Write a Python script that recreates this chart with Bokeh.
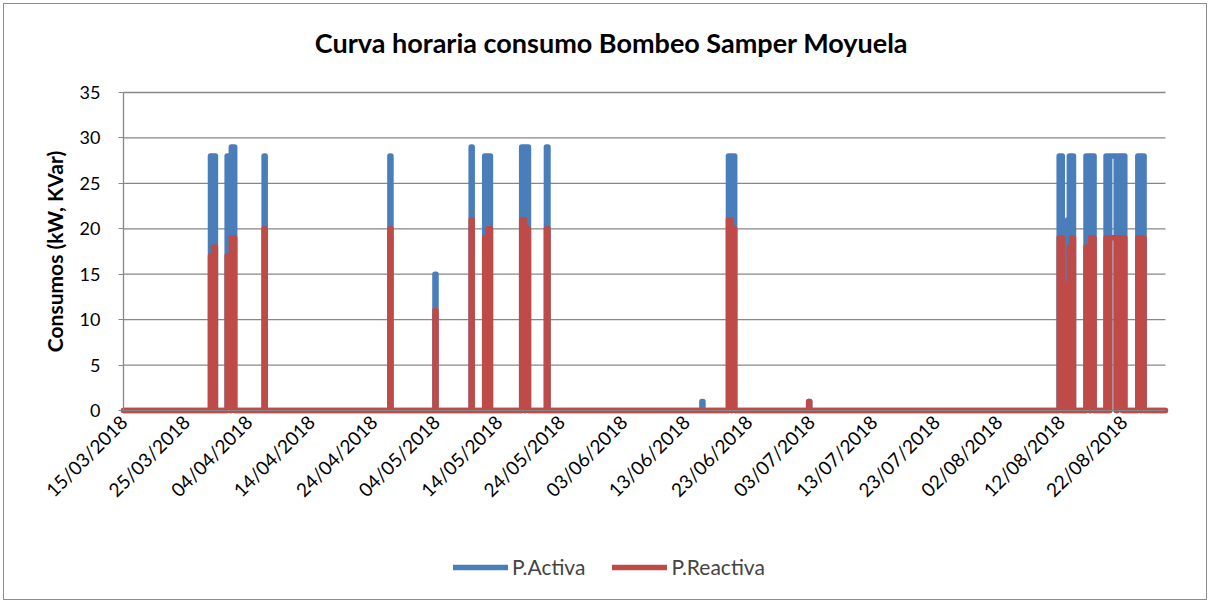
from datetime import datetime, timedelta
from math import pi

from bokeh.plotting import figure
from bokeh.models import (ColumnDataSource, Range1d, FixedTicker, DatetimeTickFormatter,
                          Legend, LegendItem, Label)
from bokeh.embed import file_html
from bokeh.resources import INLINE

# ---------------- data ----------------
# Pumping runs: start, end, P.Activa (kW), P.Reactiva (kVAr); zero elsewhere.
run_start = [
    "28/03/2018 22:00", "29/03/2018 10:00", "31/03/2018 14:00", "01/04/2018 06:00",
    "06/04/2018 12:00", "26/04/2018 15:00", "03/05/2018 20:00", "09/05/2018 15:00",
    "11/05/2018 19:00", "12/05/2018 08:00", "17/05/2018 17:00", "18/05/2018 08:00",
    "21/05/2018 16:00", "15/06/2018 13:00", "19/06/2018 19:00", "20/06/2018 09:00",
    "02/07/2018 15:00", "11/08/2018 17:00", "13/08/2018 02:00", "13/08/2018 08:00",
    "13/08/2018 17:00", "16/08/2018 00:00", "16/08/2018 18:00", "19/08/2018 05:00",
    "19/08/2018 19:00", "21/08/2018 00:00", "22/08/2018 00:00", "24/08/2018 07:00",
    "24/08/2018 21:00",
]
run_end = [
    "29/03/2018 07:00", "29/03/2018 17:00", "01/04/2018 02:00", "01/04/2018 19:00",
    "06/04/2018 16:00", "26/04/2018 19:00", "04/05/2018 00:00", "09/05/2018 19:00",
    "12/05/2018 04:00", "12/05/2018 17:00", "18/05/2018 04:00", "18/05/2018 19:00",
    "21/05/2018 22:00", "15/06/2018 17:00", "20/06/2018 05:00", "20/06/2018 19:00",
    "02/07/2018 19:00", "12/08/2018 05:00", "13/08/2018 04:00", "13/08/2018 14:00",
    "14/08/2018 00:00", "16/08/2018 14:00", "17/08/2018 07:00", "19/08/2018 14:00",
    "20/08/2018 20:00", "21/08/2018 20:00", "22/08/2018 05:00", "24/08/2018 17:00",
    "25/08/2018 07:00",
]
p_activa = [28, 28, 28, 29, 28, 28, 15, 29, 28, 28, 29, 29, 29, 1, 28, 28, 1,
            28, 21, 28, 28, 28, 28, 28, 28, 28, 28, 28, 28]
p_reactiva = [17, 18, 17, 19, 20, 20, 11, 21, 19, 20, 21, 20, 20, 0, 21, 20, 1,
              19, 14, 18, 19, 18, 19, 19, 19, 19, 19, 19, 19]

series_start = "15/03/2018 00:00"
series_end = "28/08/2018 17:00"

tick_labels = ["15/03/2018", "25/03/2018", "04/04/2018", "14/04/2018", "24/04/2018",
               "04/05/2018", "14/05/2018", "24/05/2018", "03/06/2018", "13/06/2018",
               "23/06/2018", "03/07/2018", "13/07/2018", "23/07/2018", "02/08/2018",
               "12/08/2018", "22/08/2018"]
y_ticks = [0, 5, 10, 15, 20, 25, 30, 35]

title_text = "Curva horaria consumo Bombeo Samper Moyuela"
y_title = "Consumos (kW, KVar)"
series_names = ["P.Activa", "P.Reactiva"]

# ---------------- build step lines from the runs ----------------
FMT = "%d/%m/%Y %H:%M"
t0 = datetime.strptime(series_start, FMT)
t1 = datetime.strptime(series_end, FMT)
epoch = datetime(1970, 1, 1)


def to_ms(d):
    return (d - epoch).total_seconds() * 1000.0


def step_series(values):
    xs, ys = [t0], [0]
    for s, e, v in zip(run_start, run_end, values):
        ds, de = datetime.strptime(s, FMT), datetime.strptime(e, FMT)
        xs += [ds, ds, de, de]
        ys += [0, v, v, 0]
    xs.append(t1)
    ys.append(0)
    return xs, ys


xa, ya = step_series(p_activa)
xr, yr = step_series(p_reactiva)
src_a = ColumnDataSource(dict(x=xa, y=ya))
src_r = ColumnDataSource(dict(x=xr, y=yr))

tick_ms = [to_ms(datetime.strptime(t, "%d/%m/%Y")) for t in tick_labels]

# ---------------- layout constants (pixels) ----------------
FONT = "Lato"
BLUE = "#4a7ebb"
RED = "#be4b48"
GRID = "#878787"

CANVAS_W, CANVAS_H = 1202, 595      # whole chart drawing area (frame = canvas)
BAND_LEFT, BAND_W = 119, 1042       # value band (plot area) inside the canvas
BAND_TOP, BAND_H = 88, 318
PX_PER_DAY = 6.25
PX_PER_UNIT = BAND_H / max(y_ticks)

x_lo = t0 - timedelta(days=BAND_LEFT / PX_PER_DAY)
x_hi = t0 + timedelta(days=(CANVAS_W - BAND_LEFT) / PX_PER_DAY)
x_band_end = t0 + timedelta(days=BAND_W / PX_PER_DAY)
y_hi = max(y_ticks) + BAND_TOP / PX_PER_UNIT
y_lo = -(CANVAS_H - BAND_TOP - BAND_H) / PX_PER_UNIT

p = figure(frame_width=CANVAS_W, frame_height=CANVAS_H, output_backend="svg",
           toolbar_location=None, x_axis_type="datetime",
           x_range=Range1d(x_lo, x_hi), y_range=Range1d(y_lo, y_hi),
           min_border_left=0, min_border_right=0, min_border_top=0, min_border_bottom=0)
p.styles = {"margin-left": "3px", "margin-top": "3px", "border": "1px solid #8c8c8c"}
p.outline_line_color = None
p.background_fill_color = "white"
p.border_fill_color = "white"
p.xgrid.visible = False
p.ygrid.visible = False

# horizontal gridlines across the plot area only
p.segment(x0=[t0] * len(y_ticks), x1=[x_band_end] * len(y_ticks), y0=y_ticks, y1=y_ticks,
          line_color=GRID, line_width=1.3)

# y axis (at the left edge of the plot area)
p.yaxis.fixed_location = to_ms(t0)
p.yaxis.bounds = (0, max(y_ticks))
p.yaxis.ticker = FixedTicker(ticks=y_ticks)
p.yaxis.axis_line_color = GRID
p.yaxis.axis_line_width = 1.3
p.yaxis.major_tick_line_color = GRID
p.yaxis.major_tick_out = 5
p.yaxis.major_tick_in = 0
p.yaxis.minor_tick_line_color = None
p.yaxis.major_label_text_font = FONT
p.yaxis.major_label_text_font_size = "18px"
p.yaxis.major_label_text_color = "black"
p.yaxis.major_label_standoff = 18
p.yaxis.axis_label = y_title
p.yaxis.axis_label_text_font = FONT
p.yaxis.axis_label_text_font_style = "bold"
p.yaxis.axis_label_text_font_size = "21px"
p.yaxis.axis_label_text_color = "black"
p.yaxis.axis_label_standoff = 10

# x axis (drawn at y = 0)
p.xaxis.fixed_location = 0
p.xaxis.bounds = (to_ms(t0), to_ms(x_band_end))
p.xaxis.ticker = FixedTicker(ticks=tick_ms)
p.xaxis.formatter = DatetimeTickFormatter(
    milliseconds="%d/%m/%Y", seconds="%d/%m/%Y", minsec="%d/%m/%Y", minutes="%d/%m/%Y",
    hourmin="%d/%m/%Y", hours="%d/%m/%Y", days="%d/%m/%Y", months="%d/%m/%Y", years="%d/%m/%Y")
p.xaxis.major_label_orientation = pi / 4
p.xaxis.axis_line_color = GRID
p.xaxis.major_tick_line_color = None
p.xaxis.minor_tick_line_color = None
p.xaxis.major_tick_out = 0
p.xaxis.major_tick_in = 0
p.xaxis.major_label_text_font = FONT
p.xaxis.major_label_text_font_size = "19px"
p.xaxis.major_label_text_color = "black"
p.xaxis.major_label_standoff = 8

# lines
la = p.line("x", "y", source=src_a, line_color=BLUE, line_width=5.5,
            line_cap="round", line_join="round")
lr = p.line("x", "y", source=src_r, line_color=RED, line_width=5.5,
            line_cap="round", line_join="round")

# title
p.add_layout(Label(x=607, y=CANVAS_H - 38, x_units="screen", y_units="screen",
                   text=title_text, text_align="center", text_baseline="middle",
                   text_font=FONT, text_font_style="bold", text_font_size="27px",
                   text_color="black"))

legend = Legend(items=[LegendItem(label=series_names[0], renderers=[la]),
                       LegendItem(label=series_names[1], renderers=[lr])],
                orientation="horizontal", location=(449, 20),
                glyph_width=55, glyph_height=22, label_standoff=4, spacing=27,
                label_text_font=FONT, label_text_font_size="21px",
                border_line_color=None, background_fill_alpha=0,
                padding=0, margin=0)
p.add_layout(legend, "center")

open("out.html", "w").write(file_html(p, INLINE))
